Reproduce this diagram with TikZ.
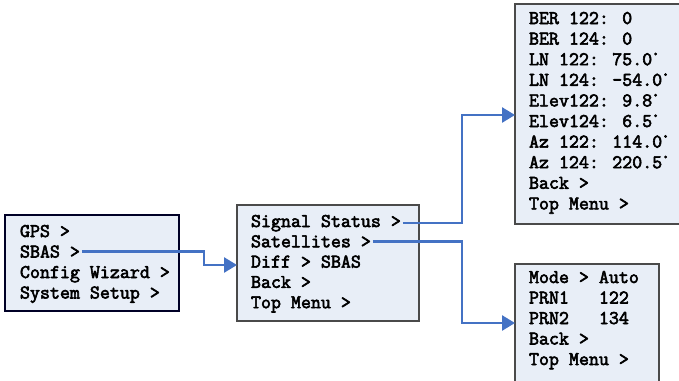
\documentclass[tikz,border=0pt]{standalone}
\usepackage{fontspec}
\usetikzlibrary{arrows.meta}
\newfontfamily\menufont[FakeBold=3]{Latin Modern Mono}
\definecolor{menufill}{HTML}{E8EEF7}
\definecolor{menuedge}{HTML}{4A4A4A}
\definecolor{linkblue}{HTML}{4472C4}
\newcommand{\degs}{\kern1pt\raisebox{7pt}{\fontsize{9}{9}\selectfont\menufont °}}
\begin{document}
\begin{tikzpicture}[x=1pt,y=-1pt,
  menubox/.style={draw=menuedge,fill=menufill,line width=1.2pt},
  item/.style={anchor=base west,inner sep=0pt,outer sep=2pt,
    font=\fontsize{19.4}{20}\menufont},
  link/.style={draw=linkblue,line width=2.6pt,
    -{Triangle[length=13pt,width=15pt]}}]
\useasboundingbox (0,0) rectangle (679,380);

% main menu
\draw[menubox,draw=black!85!blue] (5,215) rectangle (179,311);
\node[item] (gps)  at (18,237) {GPS >};
\node[item] (sbas) at (18,257.5) {SBAS >};
\node[item] (cfg)  at (18,278) {Config Wizard >};
\node[item] (sys)  at (18,298.5) {System Setup >};

% SBAS menu
\draw[menubox] (237,205) rectangle (419,321);
\node[item] (sig)  at (249,227) {Signal Status >};
\node[item] (sat)  at (249,247.3) {Satellites >};
\node[item] (diff) at (249,267.6) {Diff > SBAS};
\node[item] (bk2)  at (249,287.9) {Back >};
\node[item] (top2) at (249,308.2) {Top Menu >};

% signal status screen
\draw[menubox] (515,4) rectangle (685,224);
\node[item] (ber1) at (527,24) {BER 122: 0};
\node[item] (ber2) at (527,44.6) {BER 124: 0};
\node[item] (ln1)  at (527,65.2) {LN 122: 75.0\degs};
\node[item] (ln2)  at (527,85.8) {LN 124: -54.0\degs};
\node[item] (el1)  at (527,106.4) {Elev122: 9.8\degs};
\node[item] (el2)  at (527,127) {Elev124: 6.5\degs};
\node[item] (az1)  at (527,147.6) {Az 122: 114.0\degs};
\node[item] (az2)  at (527,168.2) {Az 124: 220.5\degs};
\node[item] (bk3)  at (527,188.8) {Back >};
\node[item] (top3) at (527,209.4) {Top Menu >};
\coordinate (sigin) at (515,115);

% satellites screen
\draw[menubox] (515,264) rectangle (659,390);
\node[item] (mode) at (527,283) {Mode > Auto};
\node[item] (prn1) at (527,303.5) {PRN1\ \ \ 122};
\node[item] (prn2) at (527,324) {PRN2\ \ \ 134};
\node[item] (bk4)  at (527,344.5) {Back >};
\node[item] (top4) at (527,365) {Top Menu >};
\coordinate (satin) at (515,323);

% connectors
\coordinate (sbasin) at (237,265);
\draw[link] (sbas.east) -| (204,265) -- (sbasin);
\draw[link] (sig.east) -| (462,115) -- (sigin);
\draw[link] (sat.east) -| (462,323) -- (satin);
\end{tikzpicture}
\end{document}
